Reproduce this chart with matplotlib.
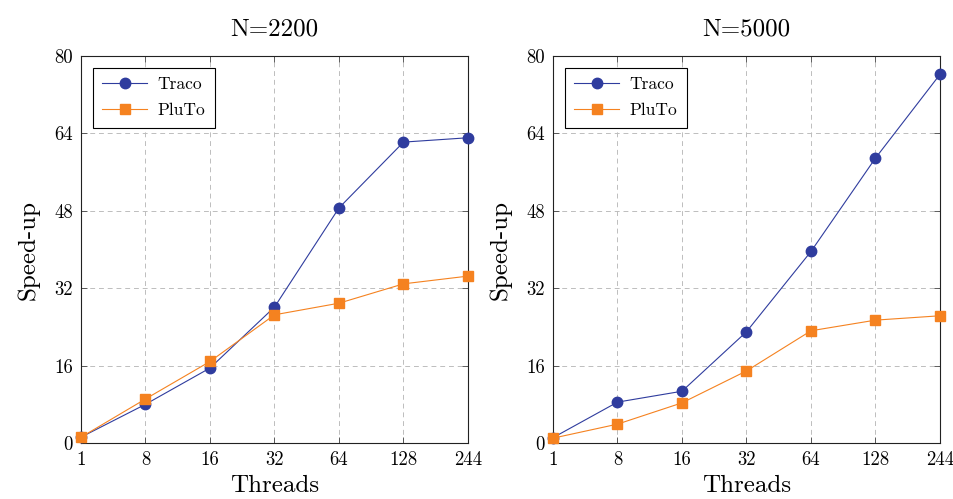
import matplotlib
matplotlib.use("Agg")
import matplotlib.pyplot as plt
import numpy as np

threads = ["1", "8", "16", "32", "64", "128", "244"]
yticks = [0, 16, 32, 48, 64, 80]

traco_2200 = [1.2, 8.0, 15.5, 28.1, 48.6, 62.2, 63.1]
pluto_2200 = [1.2, 9.1, 16.85, 26.5, 28.9, 32.9, 34.5]
traco_5000 = [1.1, 8.45, 10.7, 23.0, 39.6, 58.9, 76.2]
pluto_5000 = [1.0, 3.9, 8.3, 14.9, 23.2, 25.4, 26.3]

titles = ["N=2200", "N=5000"]

plt.rcParams['font.family'] = ['cmr10', 'DejaVu Serif']
plt.rcParams['mathtext.fontset'] = 'cm'
plt.rcParams['axes.unicode_minus'] = False

blue = "#2f3c9e"
orange = "#f58220"

fig = plt.figure(figsize=(9.54, 4.99), dpi=100)
W, H = 954, 499
axes_pos = [(81, 56, 468, 443), (553, 56, 940, 443)]
data = [(traco_2200, pluto_2200), (traco_5000, pluto_5000)]

for i, ((x0, y0, x1, y1), (tr, pl)) in enumerate(zip(axes_pos, data)):
    ax = fig.add_axes([x0 / W, 1 - y1 / H, (x1 - x0) / W, (y1 - y0) / H])
    xs = np.arange(len(threads))
    ax.plot(xs, tr, color=blue, lw=0.8, marker='o', ms=7.5, mec=blue, mfc=blue,
            label="Traco", zorder=3, clip_on=False)
    ax.plot(xs, pl, color=orange, lw=0.8, marker='s', ms=7.5, mec=orange, mfc=orange,
            label="PluTo", zorder=3, clip_on=False)
    ax.set_xlim(0, len(threads) - 1)
    ax.set_ylim(0, 80)
    ax.set_xticks(xs)
    ax.set_xticklabels(threads)
    ax.set_yticks(yticks)
    ax.tick_params(direction='in', top=True, right=True, labelsize=13.5, length=4,
                   width=0.6, color='#444444', pad=6)
    ax.grid(True, color='#bdbdbd', linestyle=(0, (5, 4)), lw=0.7)
    for s in ax.spines.values():
        s.set_linewidth(0.8)
        s.set_color('#222222')
    ax.set_title(titles[i], fontsize=18, pad=15)
    ax.set_xlabel("Threads", fontsize=18, labelpad=4)
    ax.set_ylabel("Speed-up", fontsize=18, labelpad=10)
    leg = ax.legend(loc='upper left', fontsize=12.5, frameon=True, fancybox=False,
                    edgecolor='black', framealpha=1, borderpad=0.55,
                    labelspacing=0.6, handlelength=2.6, handletextpad=0.6,
                    borderaxespad=0, bbox_to_anchor=(0.03, 0.97))
    leg.get_frame().set_linewidth(0.8)

fig.savefig("out.png", dpi=100)
